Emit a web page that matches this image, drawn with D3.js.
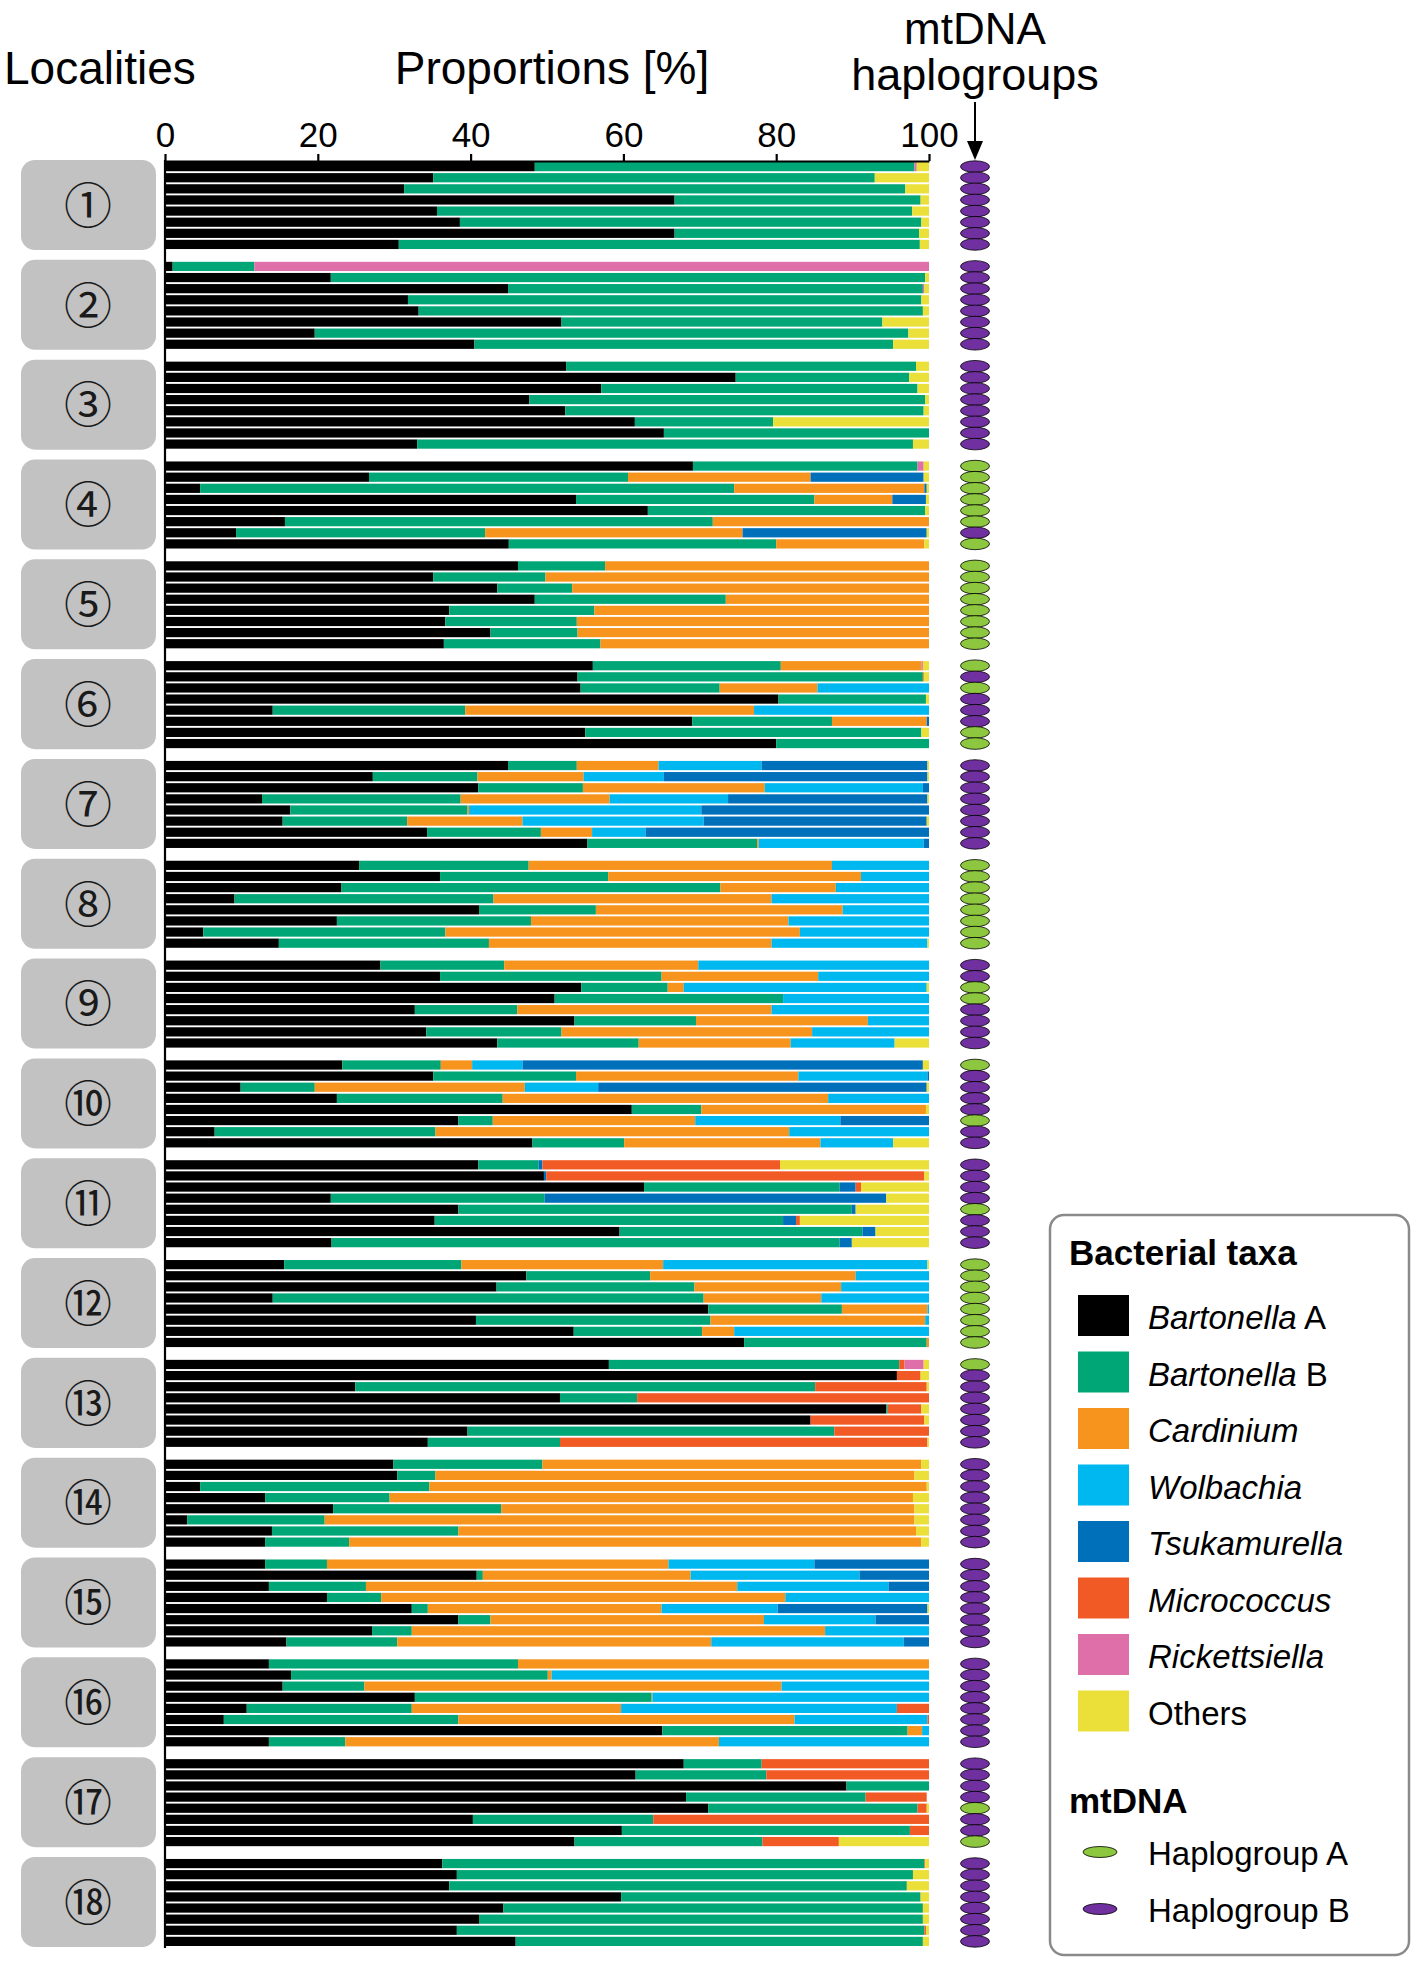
<!DOCTYPE html>
<html lang="en">
<head>
<meta charset="utf-8">
<title>Bacterial taxa by locality</title>
<script src="https://cdnjs.cloudflare.com/ajax/libs/d3/7.8.5/d3.min.js"></script>
<style>
  body { margin: 0; background: #fff; }
  .narrow { font-family: "Liberation Sans Narrow", "Arial Narrow", "Liberation Sans", sans-serif; }
  .wide { font-family: "Liberation Sans", Arial, sans-serif; }
</style>
</head>
<body>
<script>
// localities and taxa
var localities = d3.range(1, 19);
var circled = ["①","②","③","④","⑤","⑥","⑦","⑧","⑨","⑩","⑪","⑫","⑬","⑭","⑮","⑯","⑰","⑱"];
var taxa = ["Bartonella A", "Bartonella B", "Cardinium", "Wolbachia", "Tsukamurella", "Micrococcus", "Rickettsiella", "Others"];
var taxaColors = ["#000000", "#00a676", "#f7941d", "#00b8f0", "#0070bb", "#f15a24", "#de6fa8", "#ebe03a"];
var xTicks = [0, 20, 40, 60, 80, 100];

// proportions [%], one row of 8 individuals per locality
var bartonellaA = [
  [48.4,35.1,31.3,66.7,35.6,38.6,66.7,30.6],
  [1.0,21.7,44.9,31.8,33.2,51.9,19.6,40.5],
  [52.5,74.7,57.1,47.7,52.4,61.5,65.3,33.0],
  [69.1,26.7,4.6,53.8,63.2,15.7,9.3,45.0],
  [46.2,35.1,43.5,48.4,37.2,36.7,42.6,36.5],
  [56.0,54.0,54.4,80.3,14.1,69.0,55.0,80.0],
  [44.9,27.2,41.0,12.7,16.4,15.4,34.3,55.3],
  [25.4,36.0,23.1,9.1,41.1,22.5,5.0,14.9],
  [28.2,36.0,54.5,51.0,32.7,53.6,34.2,43.5],
  [23.2,35.1,9.9,22.5,61.1,38.4,6.5,48.1],
  [41.0,49.6,62.7,21.7,38.4,35.3,59.5,21.8],
  [15.6,47.3,43.4,14.1,71.1,40.7,53.5,75.8],
  [58.1,95.8,24.9,51.7,94.4,84.5,39.6,34.4],
  [29.9,30.4,4.6,13.1,22.0,2.9,14.0,13.1],
  [13.1,40.8,13.6,21.2,32.3,38.4,27.1,15.9],
  [13.6,16.5,15.4,32.7,10.7,7.7,65.1,13.6],
  [67.9,61.6,89.2,68.2,71.1,40.3,59.8,53.6],
  [36.3,38.2,37.2,59.7,44.3,41.1,38.2,45.9]
];
var bartonellaB = [
  [49.7,57.8,65.6,32.2,62.2,60.4,32.0,68.2],
  [10.7,77.8,54.3,67.2,66.0,42.0,77.7,54.8],
  [45.8,22.7,41.4,51.8,46.9,18.1,34.7,64.9],
  [29.4,33.9,69.9,31.2,36.3,56.0,32.6,35.0],
  [11.4,14.7,9.8,25.0,19.0,17.2,11.4,20.5],
  [24.6,45.2,18.2,19.3,25.2,18.3,44.0,20.0],
  [9.0,13.7,13.7,26.0,23.2,16.3,14.9,22.2],
  [22.2,22.0,49.6,33.9,15.3,25.4,31.7,27.5],
  [16.2,29.0,11.3,29.9,13.4,15.9,17.7,18.5],
  [12.9,18.7,9.7,21.7,9.1,4.5,28.9,12.0],
  [7.9,0,25.6,28.0,51.5,45.6,31.8,66.5],
  [23.2,16.2,25.9,56.4,17.5,30.7,16.8,23.9],
  [38.0,0,60.2,10.1,0.2,0,48.0,17.3],
  [19.5,5.0,30.0,16.3,22.0,18.0,24.4,11.0],
  [8.1,0.8,12.7,7.1,2.1,4.2,5.2,14.5],
  [32.6,33.6,10.7,31.0,21.6,30.7,32.1,10.0],
  [10.2,17.1,10.8,23.5,27.4,23.6,37.7,24.6],
  [63.1,59.7,59.9,39.2,54.9,58.1,61.2,53.3]
];
var cardinium = [
  [0,0,0,0,0,0,0,0],
  [0,0,0,0,0,0,0,0],
  [0,0,0,0,0,0,0,0],
  [0,23.9,24.9,10.2,0,28.3,33.7,19.4],
  [42.4,50.2,46.7,26.6,43.8,46.1,46.0,43.0],
  [18.4,0.2,12.8,0,37.8,12.4,0,0],
  [10.7,13.9,23.8,19.5,0.2,15.1,6.7,0.2],
  [39.7,33.1,15.1,36.4,32.3,33.7,46.4,37.0],
  [25.4,20.5,2.1,0,33.3,22.5,32.8,19.9],
  [4.1,29.1,27.5,42.6,29.4,26.5,46.3,25.7],
  [0,0,0,0,0,0,0,0],
  [26.4,26.9,19.2,15.4,11.2,28.1,4.2,0.3],
  [0,0,0,0,0,0,0,0],
  [49.6,62.7,65.1,68.5,54.1,77.2,59.9,74.9],
  [44.7,27.2,48.6,52.9,30.6,35.8,54.1,41.1],
  [53.8,0.5,54.6,0.1,27.4,44.0,1.9,48.9],
  [0,0,0,0,0,0,0,0],
  [0,0,0,0,0,0,0,0]
];
var wolbachia = [
  [0,0,0,0,0,0,0,0],
  [0,0,0,0,0,0,0,0],
  [0,0,0,0,0,0,0,0],
  [0,0,0,0,0,0,0,0],
  [0,0,0,0,0,0,0,0],
  [0,0,14.6,0,22.9,0,0,0],
  [13.5,10.5,20.7,15.5,30.4,23.7,7.0,21.6],
  [12.7,8.9,12.2,20.6,11.3,18.4,16.9,20.4],
  [30.2,14.5,31.8,19.1,20.6,8.0,15.3,13.6],
  [6.6,16.9,9.6,13.2,0,19.0,18.3,9.5],
  [0,0,0,0,0,0,0,0],
  [34.6,9.6,11.5,14.1,0.2,0.5,25.5,0],
  [0,0,0,0,0,0,0,0],
  [0,0,0,0,0,0,0,0],
  [19.1,22.1,19.8,18.8,15.2,14.6,13.6,25.2],
  [0,49.4,19.3,36.2,36.1,17.4,0.9,27.5],
  [0,0,0,0,0,0,0,0],
  [0,0,0,0,0,0,0,0]
];
var tsukamurella = [
  [0,0,0,0,0,0,0,0],
  [0,0,0,0,0,0,0,0],
  [0,0,0,0,0,0,0,0],
  [0,14.8,0.3,4.4,0,0,24.1,0],
  [0,0,0,0,0,0,0,0],
  [0,0,0,0,0,0.3,0,0],
  [21.7,34.5,0.8,26.1,29.8,29.2,37.1,0.7],
  [0,0,0,0,0,0,0,0],
  [0,0,0,0,0,0,0,0],
  [52.4,0.2,43.0,0,0,11.6,0,0],
  [0.5,0.3,2.1,44.7,0.5,1.7,1.7,1.6],
  [0,0,0,0,0,0,0,0],
  [0,0,0,0,0,0,0,0],
  [0,0,0,0,0,0,0,0],
  [15.0,9.1,5.3,0,19.6,7.0,0,3.3],
  [0,0,0,0,0,0,0,0],
  [0,0,0,0,0,0,0,0],
  [0,0,0,0,0,0,0,0]
];
var micrococcus = [
  [0,0,0,0,0,0,0,0],
  [0,0,0,0,0,0,0,0],
  [0,0,0,0,0,0,0,0],
  [0,0,0,0,0,0,0,0],
  [0,0,0,0,0,0,0,0],
  [0,0,0,0,0,0,0,0],
  [0,0,0,0,0,0,0,0],
  [0,0,0,0,0,0,0,0],
  [0,0,0,0,0,0,0,0],
  [0,0,0,0,0,0,0,0],
  [31.1,49.5,0.7,0,0,0.5,0,0],
  [0,0,0,0,0,0,0,0],
  [0.7,3.1,14.6,38.2,4.4,14.9,12.4,48.1],
  [0,0,0,0,0,0,0,0],
  [0,0,0,0,0,0,0,0],
  [0,0,0,0,4.2,0.2,0,0],
  [21.9,21.3,0,8.0,1.2,36.1,2.5,10.0],
  [0.1,0,0,0,0,0,0.2,0]
];
var rickettsiella = [
  [0.3,0,0,0,0,0,0,0],
  [88.3,0,0.2,0,0,0,0,0],
  [0,0,0,0,0,0,0,0],
  [0.8,0,0,0,0,0,0,0],
  [0,0,0,0,0,0,0,0],
  [0.2,0,0,0,0,0,0,0],
  [0,0,0,0,0,0,0,0],
  [0,0,0,0,0,0,0,0],
  [0,0,0,0,0,0,0,0],
  [0,0,0,0,0,0,0,0],
  [0,0,0,0,0,0,0,0],
  [0,0,0,0,0,0,0,0],
  [2.5,0,0,0,0,0,0,0],
  [0,0,0,0,0,0,0,0],
  [0,0,0,0,0,0,0,0],
  [0,0,0,0,0,0,0,0],
  [0,0,0,0,0,0,0,0],
  [0,0,0,0,0,0,0,0]
];
var others = [
  [1.6,7.1,3.1,1.1,2.2,1.0,1.3,1.2],
  [0,0.5,0.6,1.0,0.8,6.1,2.7,4.7],
  [1.7,2.6,1.5,0.5,0.7,20.4,0,2.1],
  [0.7,0.7,0.3,0.4,0.5,0,0.3,0.6],
  [0,0,0,0,0,0,0,0],
  [0.8,0.6,0,0.4,0,0,1.0,0],
  [0.2,0.2,0,0.2,0,0.3,0,0],
  [0,0,0,0,0,0,0,0.2],
  [0,0,0.3,0,0,0,0,4.5],
  [0.8,0,0.3,0,0.4,0,0,4.7],
  [19.5,0.6,8.9,5.6,9.6,16.9,7.0,10.1],
  [0.2,0,0,0,0,0,0,0],
  [0.7,1.1,0.3,0,1.0,0.6,0,0.2],
  [1.0,1.9,0.3,2.1,1.9,1.9,1.7,1.0],
  [0,0,0,0,0.2,0,0,0],
  [0,0,0,0,0,0,0,0],
  [0,0,0,0,0.3,0.3,0,11.8],
  [0.5,2.1,2.9,1.1,0.8,0.8,0.4,0.8]
];
// mtDNA haplogroup of each individual
var haplogroups = [
  "BBBBBBBB","BBBBBBBB","BBBBBBBB","AAAAAABA","AAAAAAAA","ABABBBAA",
  "BBBBBBBB","AAAAAAAA","BBAABBBB","ABBBBABB","BBBBABBB","AAAAAAAA",
  "ABBBBBBB","BBBBBBBB","BBBBBBBB","BBBBBBBB","BBBBABBA","BBBBBBBB"
];
var haploColors = {A: "#8dc63f", B: "#7030a0"};

var series = [bartonellaA, bartonellaB, cardinium, wolbachia, tsukamurella, micrococcus, rickettsiella, others];

// one row per individual
var rows = [];
localities.forEach(function(loc, i) {
  d3.range(8).forEach(function(k) {
    var r = {loc: loc, ind: k, hap: haplogroups[i][k]};
    taxa.forEach(function(t, j) { r[t] = series[j][i][k]; });
    rows.push(r);
  });
});

var width = 1418, height = 1962;
var svg = d3.select("body").append("svg")
    .attr("width", width)
    .attr("height", height);

// scales
var x = d3.scaleLinear().domain([0, 100]).range([165, 929]).clamp(true);
var yLoc = d3.scaleBand().domain(localities).range([162, 1946]).paddingInner(0.128);
var yInd = d3.scaleBand().domain(d3.range(8)).range([0, yLoc.bandwidth()]).paddingInner(0.17);
var color = d3.scaleOrdinal().domain(taxa).range(taxaColors);

// gray locality boxes
var boxes = svg.append("g").selectAll("g")
    .data(localities)
    .enter().append("g")
    .attr("transform", function(d) { return "translate(0," + yLoc(d) + ")"; });
boxes.append("rect")
    .attr("x", 21)
    .attr("y", -2)
    .attr("width", 135)
    .attr("height", yLoc.bandwidth() + 3)
    .attr("rx", 14)
    .attr("fill", "#c2c2c2");
boxes.append("text")
    .attr("x", 88)
    .attr("y", yLoc.bandwidth() / 2)
    .attr("dy", "0.36em")
    .attr("text-anchor", "middle")
    .style("font-family", "'Noto Sans CJK JP', 'DejaVu Sans', sans-serif")
    .style("font-size", "48px")
    .attr("fill", "#1a1a1a")
    .text(function(d, i) { return circled[i]; });

// stacked bars
var stacked = d3.stack().keys(taxa)(rows);
svg.append("g").selectAll("g")
    .data(stacked)
    .enter().append("g")
    .attr("fill", function(d) { return color(d.key); })
    .selectAll("rect")
    .data(function(d) { return d.filter(function(s) { return s[1] - s[0] > 0; }); })
    .enter().append("rect")
    .attr("x", function(d) { return x(d[0]); })
    .attr("width", function(d) { return Math.max(0, x(d[1]) - x(d[0])); })
    .attr("y", function(d) { return yLoc(d.data.loc) + yInd(d.data.ind); })
    .attr("height", yInd.bandwidth());

// haplogroup ellipses
svg.append("g").selectAll("ellipse")
    .data(rows)
    .enter().append("ellipse")
    .attr("cx", 975)
    .attr("cy", function(d) { return yLoc(d.loc) + yInd(d.ind) + yInd.bandwidth() / 2; })
    .attr("rx", 14.5)
    .attr("ry", 5.8)
    .attr("fill", function(d) { return haploColors[d.hap]; })
    .attr("stroke", "#000")
    .attr("stroke-width", 0.8);

// top axis
var axis = svg.append("g")
    .attr("class", "narrow")
    .attr("transform", "translate(0,161)")
    .call(d3.axisTop(x).tickValues(xTicks).tickSize(7).tickSizeOuter(0).tickPadding(7));
axis.selectAll("text").style("font-size", "35px").attr("fill", "#000");
axis.selectAll("line, path").attr("stroke", "#000").attr("stroke-width", 2.2);
axis.select(".domain").attr("stroke-width", 2.2);

// left axis line
svg.append("line")
    .attr("x1", x(0)).attr("x2", x(0))
    .attr("y1", 160).attr("y2", 1948)
    .attr("stroke", "#000")
    .attr("stroke-width", 2.2);

// headings
svg.append("text").attr("class", "narrow")
    .attr("x", 4).attr("y", 84)
    .style("font-size", "46px")
    .text("Localities");
svg.append("text").attr("class", "narrow")
    .attr("x", 552).attr("y", 84)
    .attr("text-anchor", "middle")
    .style("font-size", "46px")
    .text("Proportions [%]");
svg.append("text").attr("class", "narrow")
    .attr("x", 975).attr("y", 44)
    .attr("text-anchor", "middle")
    .style("font-size", "44px")
    .text("mtDNA");
svg.append("text").attr("class", "narrow")
    .attr("x", 975).attr("y", 90)
    .attr("text-anchor", "middle")
    .style("font-size", "45px")
    .text("haplogroups");

// arrow to the haplogroup column
svg.append("line")
    .attr("x1", 975).attr("x2", 975)
    .attr("y1", 102).attr("y2", 143)
    .attr("stroke", "#000").attr("stroke-width", 2);
svg.append("path")
    .attr("d", "M967,141 L983,141 L975,160 Z")
    .attr("fill", "#000");

// legend
var legend = svg.append("g").attr("class", "wide");
legend.append("rect")
    .attr("x", 1050).attr("y", 1215)
    .attr("width", 359).attr("height", 740)
    .attr("rx", 14)
    .attr("fill", "#fff")
    .attr("stroke", "#8a8a8a")
    .attr("stroke-width", 2.5);
legend.append("text")
    .attr("x", 1069).attr("y", 1265)
    .style("font-size", "35px").style("font-weight", "bold")
    .text("Bacterial taxa");

var items = legend.selectAll("g.item")
    .data(taxa)
    .enter().append("g")
    .attr("class", "item")
    .attr("transform", function(d, i) { return "translate(1078," + (1295 + i * 56.5) + ")"; });
items.append("rect")
    .attr("width", 51).attr("height", 41)
    .attr("fill", function(d) { return color(d); });
var labels = items.append("text")
    .attr("x", 70).attr("y", 34)
    .style("font-size", "33px");
labels.append("tspan")
    .style("font-style", function(d) { return d === "Others" ? "normal" : "italic"; })
    .text(function(d) { return d.split(" ")[0]; });
labels.append("tspan")
    .text(function(d) { var p = d.split(" "); return p.length > 1 ? " " + p[1] : ""; });

legend.append("text")
    .attr("x", 1069).attr("y", 1813)
    .style("font-size", "35px").style("font-weight", "bold")
    .text("mtDNA");
var hapItems = legend.selectAll("g.hap")
    .data(["A", "B"])
    .enter().append("g")
    .attr("class", "hap")
    .attr("transform", function(d, i) { return "translate(0," + (1852 + i * 57) + ")"; });
hapItems.append("ellipse")
    .attr("cx", 1100).attr("cy", 0)
    .attr("rx", 17).attr("ry", 5.5)
    .attr("fill", function(d) { return haploColors[d]; })
    .attr("stroke", "#000").attr("stroke-width", 0.8);
hapItems.append("text")
    .attr("x", 1148).attr("y", 13)
    .style("font-size", "33px")
    .text(function(d) { return "Haplogroup " + d; });
</script>
</body>
</html>
